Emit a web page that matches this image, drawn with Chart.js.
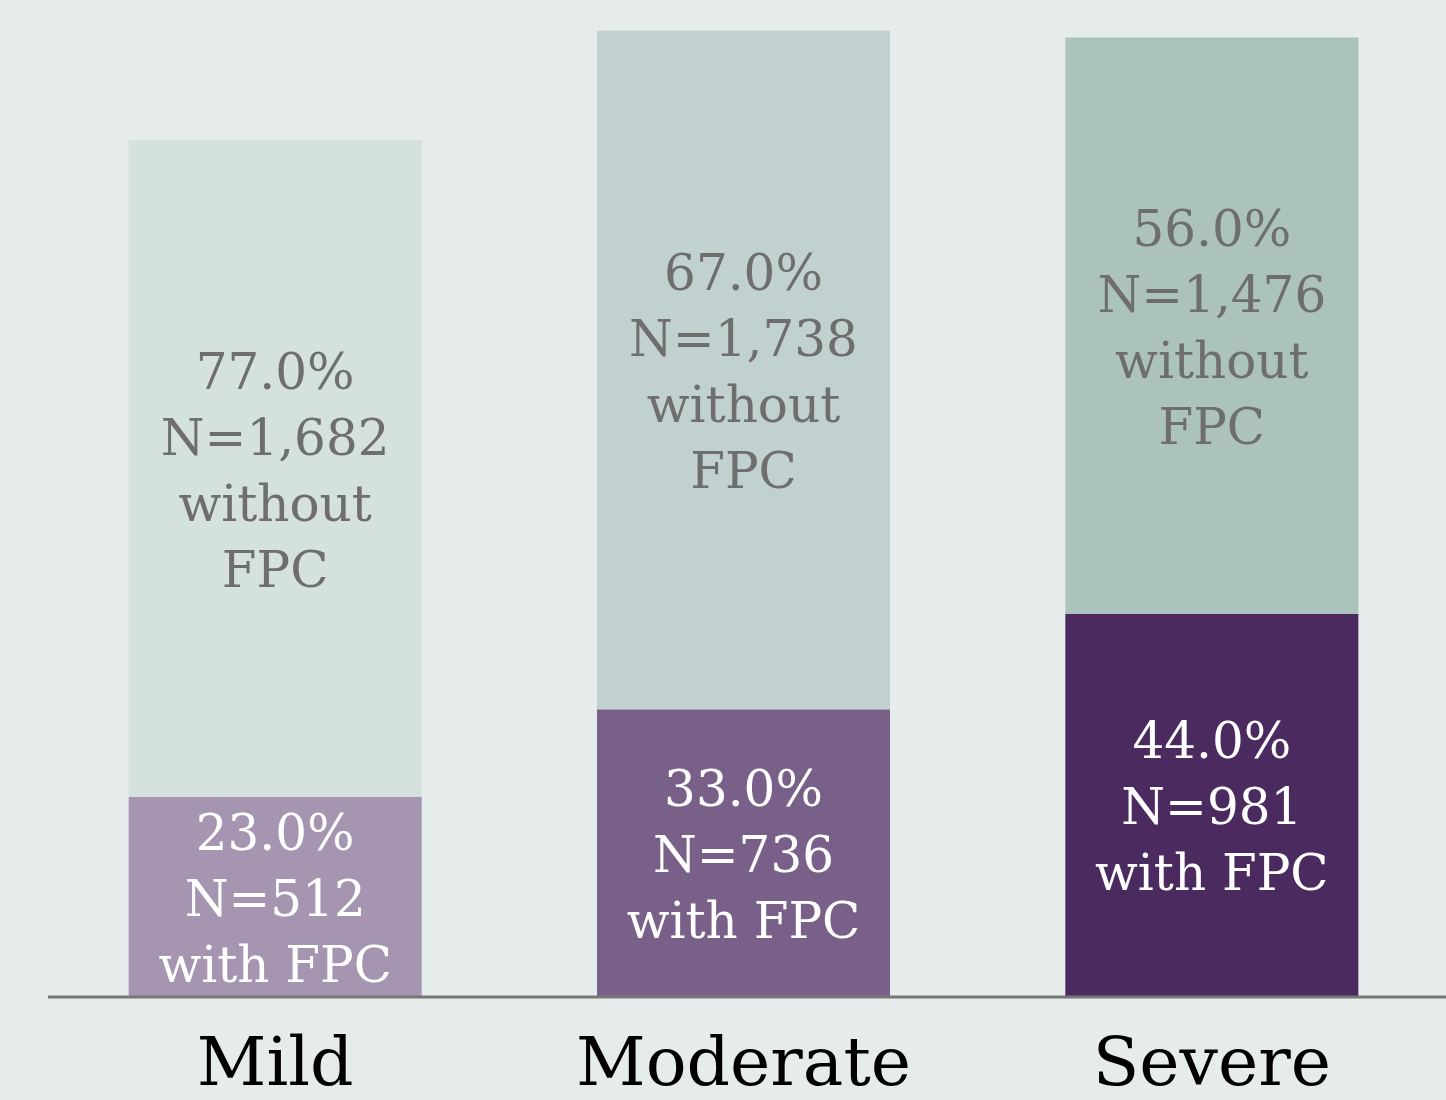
<!DOCTYPE html>
<html>
<head>
<meta charset="utf-8">
<script src="https://cdn.jsdelivr.net/npm/chart.js@4/dist/chart.umd.min.js"></script>
<style>
html,body{margin:0;padding:0;background:#e5eceb;}
#wrap{width:1446px;height:1100px;position:relative;}
</style>
</head>
<body>
<div id="wrap"><canvas id="c" width="1446" height="1100"></canvas></div>
<script>
const categories = ['Mild', 'Moderate', 'Severe'];
const withFPC = [512, 736, 981];
const withoutFPC = [1682, 1738, 1476];
const withPct = [23.0, 33.0, 44.0];
const withoutPct = [77.0, 67.0, 56.0];

const withColors = ['#a595b0', '#786089', '#4b2a60'];
const withoutColors = ['#d5e1df', '#c0d1cf', '#acc3bd'];

const FONT = '"DejaVu Serif", serif';

function fmt(n){ return n.toLocaleString('en-US'); }

const labelPlugin = {
  id: 'barLabels',
  afterDatasetsDraw(chart){
    const ctx = chart.ctx;
    chart.data.datasets.forEach((ds, di) => {
      const meta = chart.getDatasetMeta(di);
      meta.data.forEach((bar, i) => {
        const lines = ds.labelLines[i];
        const cy = (bar.y + bar.base) / 2 + 6;
        const lh = 66;
        ctx.save();
        ctx.font = '50px ' + FONT;
        ctx.fillStyle = ds.labelColor;
        ctx.textAlign = 'center';
        ctx.textBaseline = 'middle';
        const start = cy - (lines.length - 1) * lh / 2;
        lines.forEach((t, k) => ctx.fillText(t, bar.x, start + k * lh));
        ctx.restore();
      });
    });
  }
};

const axisLinePlugin = {
  id: 'axisLine',
  afterDatasetsDraw(chart){
    const ctx = chart.ctx;
    const y = chart.scales.y.getPixelForValue(0);
    ctx.save();
    ctx.strokeStyle = '#777777';
    ctx.lineWidth = 3;
    ctx.beginPath();
    ctx.moveTo(48, y);
    ctx.lineTo(chart.width, y);
    ctx.stroke();
    ctx.restore();
  }
};

new Chart(document.getElementById('c'), {
  type: 'bar',
  data: {
    labels: categories,
    datasets: [
      {
        label: 'with FPC',
        data: withFPC,
        backgroundColor: withColors,
        labelColor: '#ffffff',
        labelLines: withFPC.map((v, i) => [withPct[i].toFixed(1) + '%', 'N=' + fmt(v), 'with FPC'])
      },
      {
        label: 'without FPC',
        data: withoutFPC,
        backgroundColor: withoutColors,
        labelColor: '#6e6e6e',
        labelLines: withoutFPC.map((v, i) => [withoutPct[i].toFixed(1) + '%', 'N=' + fmt(v), 'without', 'FPC'])
      }
    ]
  },
  options: {
    responsive: false,
    animation: false,
    devicePixelRatio: 1,
    layout: { padding: { left: 41, right: 0, top: 0, bottom: 0 } },
    datasets: { bar: { barPercentage: 0.6257, categoryPercentage: 1.0, borderWidth: 0 } },
    plugins: { legend: { display: false }, tooltip: { enabled: false } },
    scales: {
      x: {
        stacked: true,
        grid: { display: false, drawTicks: false },
        border: { display: false },
        ticks: { color: '#000000', font: { family: FONT, size: 68 }, padding: 30, maxRotation: 0 },
        afterFit(scale){ scale.height = 103; }
      },
      y: {
        stacked: true,
        display: false,
        min: 0,
        max: 2553
      }
    }
  },
  plugins: [labelPlugin, axisLinePlugin]
});
</script>
</body>
</html>
